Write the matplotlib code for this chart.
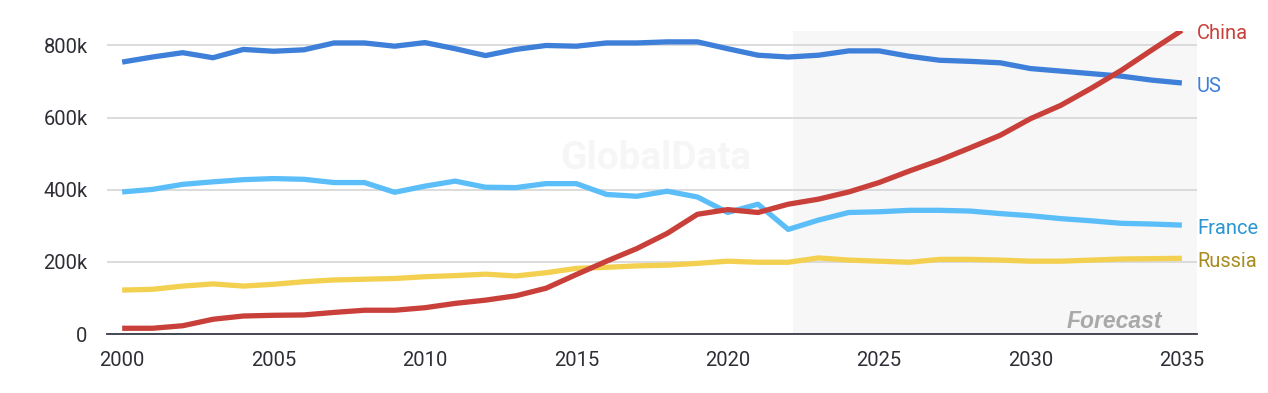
import numpy as np
import matplotlib
matplotlib.use("Agg")
import matplotlib.pyplot as plt

plt.rcParams['font.family'] = ['Roboto', 'DejaVu Sans']

years = list(range(2000, 2036))

# values in thousands
us = [754, 768, 780, 766, 789, 784, 788, 807, 807, 798, 808, 791, 772, 789, 800, 798,
      807, 807, 810, 810, 791, 773, 768, 773, 785, 785, 770, 759, 756, 752, 736, 729,
      722, 715, 704, 696]
france = [394, 401, 415, 422, 428, 431, 429, 420, 420, 393, 410, 424, 407, 406, 417, 417,
          387, 382, 396, 380, 337, 360, 290, 316, 337, 339, 343, 343, 341, 334, 328, 320,
          314, 307, 305, 302]
russia = [122, 124, 133, 139, 133, 138, 145, 150, 152, 154, 159, 162, 166, 161, 170, 182,
          185, 189, 191, 196, 202, 199, 199, 211, 205, 202, 199, 207, 207, 205, 202, 202,
          205, 208, 209, 210]
china = [16, 16, 23, 41, 50, 52, 53, 60, 66, 66, 73, 85, 94, 106, 127, 165,
         202, 237, 279, 332, 345, 337, 360, 374, 394, 420, 452, 482, 516, 551, 597, 634,
         681, 731, 787, 842]

series = [
    ("US", us, "#3d7fd9", "#3d7fd9"),
    ("France", france, "#5cbef8", "#2b96d2"),
    ("Russia", russia, "#f3d050", "#a98c1f"),
    ("China", china, "#c9403a", "#c9403a"),
]

forecast_start = 2022.15

fig = plt.figure(figsize=(12.68, 3.93), dpi=100)
ax = fig.add_axes([0.0844, 0.150, 0.8596, 0.771])

ax.axvspan(forecast_start, 2035.5, color="#f7f7f7", zorder=0, lw=0)

for name, vals, col, tcol in series:
    v = np.array(vals) * 1000
    ax.plot(years, v, color=col, lw=3.8, solid_capstyle="butt", zorder=3)
    ax.text(2035.5, v[-1] - 10000, name, color=tcol, fontsize=14.5, va="center", ha="left")

ax.set_xlim(1999.5, 2035.5)
ax.set_ylim(0, 840000)
ax.set_yticks([0, 200000, 400000, 600000, 800000])
ax.set_yticklabels(["0", "200k", "400k", "600k", "800k"])
ax.set_xticks(range(2000, 2036, 5))
ax.grid(axis="y", color="#d9d9d9", lw=1.3, zorder=1)
ax.tick_params(length=0, labelsize=14.5, colors="#2e2e36")
ax.tick_params(axis="x", pad=12)
ax.tick_params(axis="y", pad=14)
for s in ["top", "right", "left"]:
    ax.spines[s].set_visible(False)
ax.spines["bottom"].set_color("#3a3a48")
ax.spines["bottom"].set_linewidth(1.3)
ax.spines["bottom"].set_zorder(4)

ax.text(0.503, 0.58, "GlobalData", transform=ax.transAxes, fontsize=28, fontweight="bold",
        color="#f6f6f6", ha="center", va="center", zorder=2)
ax.text(2034.35, 36000, "Forecast", fontsize=16.5, fontweight="bold", style="italic",
        family="Liberation Sans", color="#a9a9a9", ha="right", va="center", zorder=2)

fig.savefig("out.png", dpi=100, facecolor="white")
